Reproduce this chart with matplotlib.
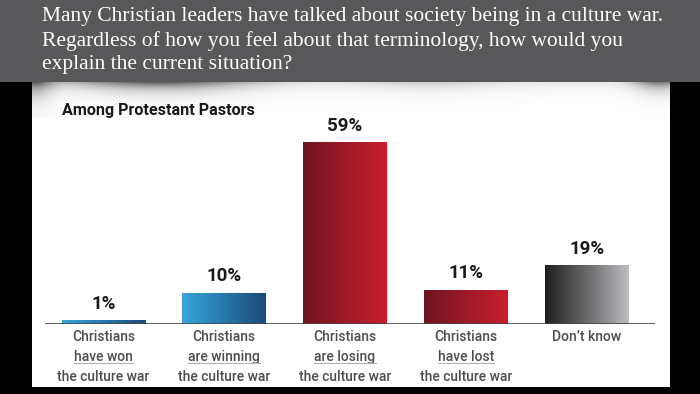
import numpy as np
import matplotlib
matplotlib.use("Agg")
import matplotlib.pyplot as plt
from matplotlib.patches import Rectangle
from matplotlib.colors import LinearSegmentedColormap
from matplotlib.lines import Line2D

# データ
categories = [
    ["Christians", "have won", "the culture war"],
    ["Christians", "are winning", "the culture war"],
    ["Christians", "are losing", "the culture war"],
    ["Christians", "have lost", "the culture war"],
    ["Don\u2019t know"],
]
values = [1, 10, 59, 11, 19]
value_labels = ["1%", "10%", "59%", "11%", "19%"]
bar_groups = ["blue", "blue", "red", "red", "gray"]

title_lines = [
    "Many Christian leaders have talked about society being in a culture war.",
    "Regardless of how you feel about that terminology, how would you",
    "explain the current situation?",
]
subtitle = "Among Protestant Pastors"

SANS = ["Roboto", "DejaVu Sans"]

W, H = 700, 394
fig = plt.figure(figsize=(7, 3.94), dpi=100)
fig.patch.set_facecolor("black")

def fx(px):
    return px / W

def fy(py):
    return 1 - py / H

# 上部の灰色の帯
fig.patches.append(Rectangle((0, fy(82)), 1, 1 - fy(82), transform=fig.transFigure,
                             facecolor="#58585a", edgecolor="none", zorder=0))
# 白いパネル
fig.patches.append(Rectangle((fx(32), fy(387)), fx(638), fy(82) - fy(387),
                             transform=fig.transFigure, facecolor="white",
                             edgecolor="none", zorder=0))

# パネル上部のぼかし（写真っぽい影）
bg = fig.add_axes([fx(32), fy(118), fx(638), fy(82) - fy(118)], zorder=0.5)
xx, yy = np.meshgrid(np.linspace(0, 1, 200), np.linspace(0, 1, 40))
shade = np.exp(-yy * 5) * (0.08 + 0.55 * np.exp(-((xx - 0.2) / 0.14) ** 2)
                            + 0.12 * np.exp(-((xx - 0.62) / 0.12) ** 2)
                            + 0.45 * np.exp(-((xx - 0.985) / 0.04) ** 2))
shade += 0.5 * np.exp(-((xx - 0.0) / 0.03) ** 2) * np.exp(-yy * 3)
bg.imshow(1 - shade, cmap="gray", vmin=0, vmax=1, aspect="auto",
          extent=[0, 1, 1, 0], interpolation="bicubic")
bg.axis("off")

# タイトル
for i, line in enumerate(title_lines):
    fig.text(fx(42), fy(17 + i * 24), line, color="white", fontsize=15.5,
             family="Liberation Serif", va="center", ha="left")

fig.text(fx(62), fy(111), subtitle, color="#1a1a1a", fontsize=11.6,
         fontweight="bold", family=SANS, va="center", ha="left")

# グラフ
ax = fig.add_axes([fx(45), fy(324), fx(610), fy(100) - fy(324)], zorder=1)
ax.patch.set_alpha(0)
x = np.arange(len(values))
bars = ax.bar(x, values, width=0.69, color="none", edgecolor="none")
ax.set_xlim(-0.483, 4.566)
ax.set_ylim(0, 73)

cmaps = {
    "blue": LinearSegmentedColormap.from_list("b", ["#35a6dc", "#1b4a78"]),
    "red": LinearSegmentedColormap.from_list("r", ["#6e1420", "#9e1a28", "#c81f2f"]),
    "gray": LinearSegmentedColormap.from_list("g", ["#1e1e1e", "#6a6a6c", "#bdbdc1"]),
}
grad = np.linspace(0, 1, 256).reshape(1, -1)
for b, g in zip(bars, bar_groups):
    x0, w, h = b.get_x(), b.get_width(), b.get_height()
    ax.imshow(grad, cmap=cmaps[g], aspect="auto", extent=[x0, x0 + w, 0, h],
              interpolation="bicubic", zorder=2)

for b, lab in zip(bars, value_labels):
    ax.annotate(lab, (b.get_x() + b.get_width() / 2, b.get_height()),
                xytext=(0, 8), textcoords="offset pixels", ha="center",
                va="bottom", fontsize=13.5, fontweight="bold",
                family=SANS, color="#1a1a1a")

ax.axhline(0, color="#444444", lw=1.2, zorder=3)
for s in ax.spines.values():
    s.set_visible(False)
ax.set_xticks([])
ax.set_yticks([])

# カテゴリラベル
label_texts = []
for i, lines in enumerate(categories):
    for k, line in enumerate(lines):
        t = ax.annotate(line, (i, 0), xytext=(0, -13 - k * 20),
                        textcoords="offset pixels", ha="center", va="center",
                        fontsize=10, fontweight="medium", color="#4d4d4d",
                        family=SANS)
        if k == 1:
            label_texts.append(t)

# 2行目の下線
fig.canvas.draw()
r = fig.canvas.get_renderer()
for t in label_texts:
    bb = t.get_window_extent(r)
    fig.add_artist(Line2D([bb.x0 / W, bb.x1 / W], [(bb.y0 + 1) / H] * 2,
                          transform=fig.transFigure, color="#b0b0b0", lw=0.8))

plt.savefig("out.png", dpi=100, facecolor=fig.get_facecolor())
